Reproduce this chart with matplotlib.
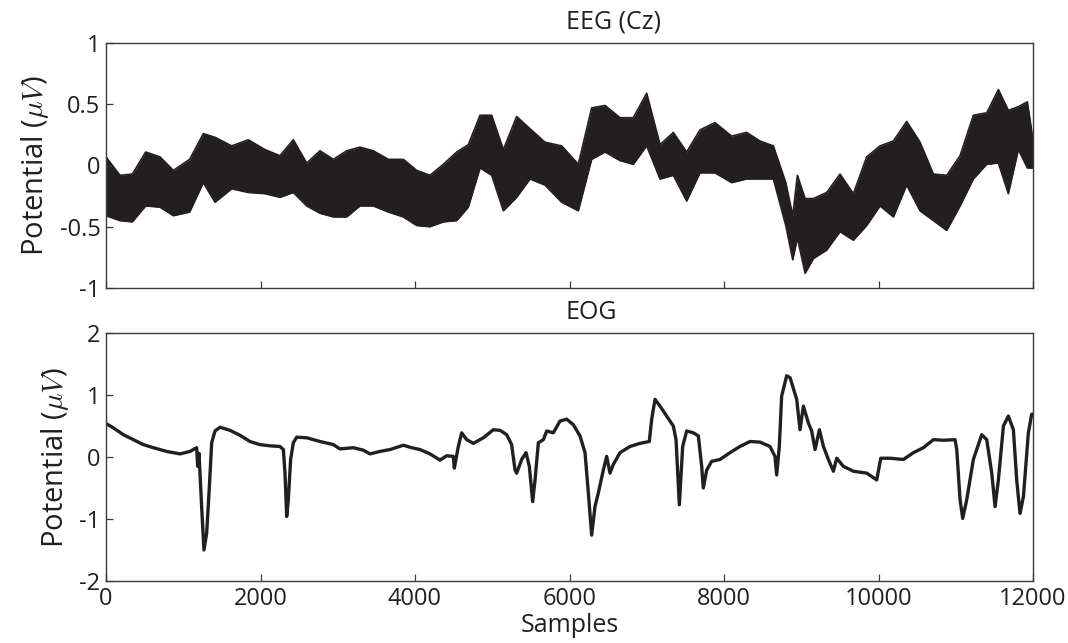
import numpy as np
import matplotlib
matplotlib.use("Agg")
import matplotlib.pyplot as plt

# ---- EEG (Cz): per-segment upper / lower excursions of the trace ----
eeg_x = [0, 181, 341, 514, 699, 872, 1083, 1260, 1411, 1627,
         1842, 2058, 2252, 2425, 2598, 2770, 2943, 3115, 3288, 3461,
         3655, 3849, 4022, 4194, 4367, 4540, 4690, 4842, 4993, 5144,
         5316, 5489, 5683, 5899, 6114, 6287, 6460, 6654, 6826, 6999,
         7172, 7344, 7517, 7689, 7883, 8099, 8293, 8466, 8639, 8800,
         8890, 8950, 9050, 9157, 9330, 9502, 9675, 9847, 10020, 10193,
         10365, 10538, 10711, 10883, 11056, 11228, 11401, 11552, 11681, 11811,
         11927, 12000]
eeg_hi = [0.07, -0.08, -0.07, 0.11, 0.07, -0.04, 0.05, 0.26, 0.23, 0.16,
          0.21, 0.13, 0.08, 0.21, 0.02, 0.12, 0.05, 0.12, 0.15, 0.12,
          0.05, 0.05, -0.04, -0.08, 0.01, 0.11, 0.17, 0.41, 0.41, 0.13,
          0.40, 0.30, 0.19, 0.16, 0.01, 0.47, 0.49, 0.39, 0.39, 0.59,
          0.17, 0.27, 0.11, 0.29, 0.35, 0.24, 0.27, 0.20, 0.16, -0.14,
          -0.41, -0.08, -0.27, -0.27, -0.22, -0.07, -0.23, 0.07, 0.16, 0.20,
          0.36, 0.19, -0.07, -0.08, 0.08, 0.41, 0.43, 0.62, 0.45, 0.48,
          0.52, 0.21]
eeg_lo = [-0.41, -0.45, -0.46, -0.33, -0.34, -0.41, -0.38, -0.14, -0.30, -0.19,
          -0.22, -0.23, -0.26, -0.22, -0.33, -0.39, -0.42, -0.42, -0.33, -0.33,
          -0.38, -0.42, -0.49, -0.50, -0.46, -0.45, -0.34, -0.02, -0.08, -0.37,
          -0.26, -0.11, -0.16, -0.30, -0.37, 0.05, 0.11, 0.04, 0.01, 0.16,
          -0.11, -0.08, -0.29, -0.06, -0.06, -0.14, -0.11, -0.11, -0.11, -0.49,
          -0.77, -0.59, -0.88, -0.76, -0.69, -0.54, -0.61, -0.49, -0.33, -0.42,
          -0.16, -0.37, -0.45, -0.53, -0.33, -0.11, 0.01, 0.02, -0.23, 0.13,
          -0.02, -0.02]

# ---- EOG trace ----
eog_x = [0, 95, 224, 354, 483, 613, 785, 958, 1087, 1174,
         1187, 1204, 1238, 1268, 1303, 1338, 1368, 1411, 1476, 1605,
         1735, 1864, 1993, 2123, 2252, 2296, 2317, 2339, 2360, 2390,
         2425, 2468, 2598, 2770, 2943, 3029, 3202, 3331, 3418, 3547,
         3676, 3849, 3957, 4065, 4194, 4324, 4410, 4496, 4509, 4561,
         4604, 4669, 4755, 4885, 5014, 5100, 5187, 5251, 5295, 5316,
         5381, 5437, 5480, 5523, 5554, 5597, 5662, 5705, 5791, 5877,
         5963, 6050, 6136, 6201, 6244, 6287, 6330, 6373, 6438, 6481,
         6524, 6567, 6654, 6783, 6913, 7033, 7064, 7107, 7172, 7258,
         7344, 7379, 7422, 7465, 7517, 7603, 7668, 7711, 7732, 7776,
         7840, 7948, 8078, 8207, 8337, 8466, 8595, 8660, 8682, 8716,
         8746, 8811, 8855, 8941, 8984, 9028, 9092, 9135, 9179, 9235,
         9287, 9351, 9416, 9459, 9545, 9675, 9847, 9977, 10029, 10150,
         10322, 10452, 10581, 10711, 10840, 10991, 11013, 11056, 11090, 11142,
         11228, 11336, 11401, 11466, 11509, 11552, 11617, 11681, 11746, 11789,
         11832, 11876, 11940, 11983, 12000]
eog_y = [0.54, 0.47, 0.36, 0.28, 0.20, 0.15, 0.09, 0.05, 0.09, 0.15,
         -0.15, 0.06, -0.80, -1.50, -1.23, -0.48, 0.23, 0.42, 0.48, 0.43,
         0.35, 0.25, 0.20, 0.18, 0.17, 0.12, -0.26, -0.96, -0.69, -0.04,
         0.23, 0.32, 0.31, 0.25, 0.20, 0.13, 0.15, 0.11, 0.05, 0.09,
         0.12, 0.19, 0.15, 0.12, 0.05, -0.05, 0.02, 0.01, -0.18, 0.17,
         0.39, 0.28, 0.22, 0.31, 0.44, 0.43, 0.36, 0.20, -0.21, -0.26,
         -0.04, 0.07, -0.15, -0.72, -0.37, 0.23, 0.28, 0.42, 0.39, 0.58,
         0.61, 0.52, 0.34, 0.07, -0.58, -1.26, -0.80, -0.58, -0.21, 0.01,
         -0.26, -0.12, 0.07, 0.17, 0.22, 0.25, 0.61, 0.93, 0.82, 0.66,
         0.50, 0.28, -0.77, 0.17, 0.42, 0.39, 0.34, -0.15, -0.50, -0.21,
         -0.07, -0.04, 0.07, 0.17, 0.25, 0.24, 0.17, 0.01, -0.29, 0.17,
         0.98, 1.31, 1.28, 0.93, 0.44, 0.82, 0.55, 0.42, 0.12, 0.44,
         0.17, -0.04, -0.23, -0.02, -0.15, -0.23, -0.26, -0.37, -0.02, -0.02,
         -0.04, 0.07, 0.15, 0.28, 0.27, 0.28, 0.12, -0.69, -0.99, -0.69,
         -0.04, 0.36, 0.28, -0.26, -0.80, -0.37, 0.50, 0.66, 0.44, -0.37,
         -0.91, -0.64, 0.39, 0.69, 0.69]

eeg_yticks = [-1, -0.5, 0, 0.5, 1]
eeg_yticklabels = ["-1", "-0.5", "0", "0.5", "1"]
eog_yticks = [-2, -1, 0, 1, 2]
eog_yticklabels = ["-2", "-1", "0", "1", "2"]
sample_ticks = [0, 2000, 4000, 6000, 8000, 10000, 12000]
sample_ticklabels = ["0", "2000", "4000", "6000", "8000", "10000", "12000"]

INK = "#231f20"
FRAME = "#3a3a3a"
plt.rcParams["font.family"] = ["Open Sans", "DejaVu Sans"]
plt.rcParams["mathtext.fontset"] = "cm"
plt.rcParams["axes.unicode_minus"] = False

fig = plt.figure(figsize=(10.68, 6.43), dpi=100)
W, H = 1068.0, 643.0
ax1 = fig.add_axes([106 / W, 1 - 288 / H, 927 / W, 245 / H])
ax2 = fig.add_axes([106 / W, 1 - 581 / H, 927 / W, 248 / H])

# EEG: the dense trace is shown as the band between its peaks and troughs
ax1.fill_between(eeg_x, eeg_lo, eeg_hi, color=INK, lw=0)
ax1.plot(eeg_x, eeg_hi, color=INK, lw=1.2)
ax1.plot(eeg_x, eeg_lo, color=INK, lw=1.2)

ax2.plot(eog_x, eog_y, color=INK, lw=2.4, solid_joinstyle="round")

for ax, yt, ytl, title in [(ax1, eeg_yticks, eeg_yticklabels, "EEG (Cz)"),
                           (ax2, eog_yticks, eog_yticklabels, "EOG")]:
    ax.set_xlim(0, 12000)
    ax.set_ylim(yt[0], yt[-1])
    ax.set_yticks(yt)
    ax.set_yticklabels(ytl)
    ax.set_xticks(sample_ticks)
    ax.tick_params(direction="in", length=5, width=0.9, color=FRAME,
                   labelsize=17, labelcolor=INK, pad=4,
                   top=False, right=False)
    for sp in ax.spines.values():
        sp.set_color(FRAME)
        sp.set_linewidth(1.0)
    ax.set_ylabel(r"Potential ($\mu V$)", fontsize=21, color=INK, labelpad=6)
    ax.annotate(title, xy=(0.496, 1.0), xycoords="axes fraction",
                xytext=(0, 6), textcoords="offset points",
                ha="left", va="bottom", fontsize=18, color=INK)

ax1.set_xticklabels([])
ax2.set_xticklabels(sample_ticklabels)
ax2.set_xlabel("Samples", fontsize=18, color=INK, labelpad=2)

fig.savefig("out.png", dpi=100)
